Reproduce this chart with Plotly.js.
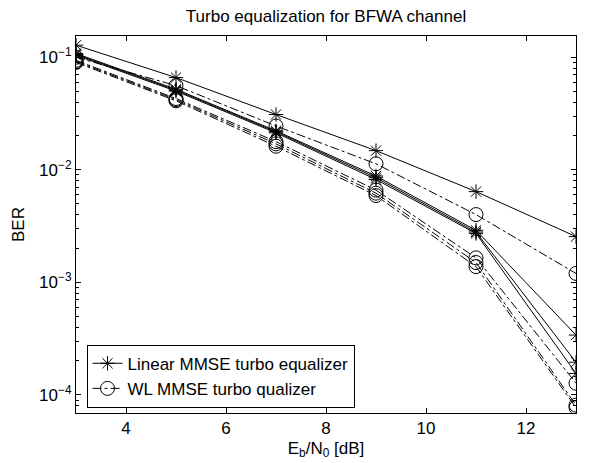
<!DOCTYPE html>
<html>
<head>
<meta charset="utf-8">
<script src="https://cdn.plot.ly/plotly-3.0.1.min.js"></script>
<style>html,body{margin:0;padding:0;background:#fff;}#chart{width:589px;height:463px;}</style>
</head>
<body>
<div id="chart"></div>
<script>
// Eb/N0 [dB]
const ebn0 = [3, 5, 7, 9, 11, 13];
// Linear MMSE turbo equalizer (solid, asterisk), iterations 1..4
const lin1 = [0.128, 0.066, 0.031, 0.0148, 0.0064, 0.00255];
const lin2 = [0.108, 0.052, 0.0222, 0.0088, 0.0029, 0.00034];
const lin3 = [0.106, 0.051, 0.0218, 0.0085, 0.0028, 0.000195];
const lin4 = [0.104, 0.050, 0.0213, 0.0082, 0.00272, 0.000155];
// WL MMSE turbo equalizer (dash-dot, circle), iterations 1..4
const wl1 = [0.100, 0.056, 0.0245, 0.0113, 0.0040, 0.0012];
const wl2 = [0.094, 0.043, 0.0178, 0.0066, 0.00165, 0.000127];
const wl3 = [0.092, 0.042, 0.0170, 0.0062, 0.0015, 0.000081];
const wl4 = [0.090, 0.041, 0.0162, 0.0059, 0.00138, 0.000077];

const xTicks = [4, 6, 8, 10, 12];
const yTicks = [1e-4, 1e-3, 1e-2, 1e-1];
const yTickText = ['10<sup>−4</sup>', '10<sup>−3</sup>', '10<sup>−2</sup>', '10<sup>−1</sup>'];

const minorVals = [];
for (let k = -5; k <= 0; k++) for (let m = 2; m <= 9; m++) minorVals.push(m * Math.pow(10, k));

const linStyle = {mode: 'lines+markers', line: {color: '#000', width: 1, dash: 'solid'},
  marker: {symbol: 'asterisk-open', size: 12, color: '#000', line: {color: '#000', width: 1}}};
const wlStyle = {mode: 'lines+markers', line: {color: '#000', width: 1, dash: 'dashdot'},
  marker: {symbol: 'circle-open', size: 14, color: '#000', line: {color: '#000', width: 1}}};

function tr(y, style, name, show) {
  return Object.assign({x: ebn0, y: y, name: name, showlegend: show, type: 'scatter'}, JSON.parse(JSON.stringify(style)));
}

const data = [
  tr(lin1, linStyle, 'Linear MMSE turbo equalizer', true),
  tr(wl1, wlStyle, 'WL MMSE turbo qualizer', true),
  tr(lin2, linStyle, 'lin2', false),
  tr(lin3, linStyle, 'lin3', false),
  tr(lin4, linStyle, 'lin4', false),
  tr(wl2, wlStyle, 'wl2', false),
  tr(wl3, wlStyle, 'wl3', false),
  tr(wl4, wlStyle, 'wl4', false)
];

const font = {family: 'Liberation Sans, Arial, Helvetica, sans-serif', color: '#000'};

const layout = {
  width: 589, height: 463,
  margin: {l: 76, r: 13, t: 36, b: 50},
  paper_bgcolor: '#fff', plot_bgcolor: '#fff',
  font: Object.assign({size: 16}, font),
  title: {text: 'Turbo equalization for BFWA channel', x: 0.5, xref: 'paper', y: 0.966, yanchor: 'middle',
    font: Object.assign({size: 17}, font)},
  xaxis: {
    range: [3, 13], tickmode: 'array', tickvals: xTicks, ticktext: xTicks.map(String),
    ticks: 'inside', ticklen: 5, tickcolor: '#000', showline: true, linecolor: '#000', linewidth: 1,
    mirror: 'ticks', showgrid: false, zeroline: false,
    tickfont: Object.assign({size: 17}, font),
    title: {text: 'E<sub>b</sub>/N<sub>0</sub> [dB]', font: Object.assign({size: 17}, font), standoff: 4}
  },
  yaxis: {
    type: 'log', range: [Math.log10(6.9e-5), Math.log10(0.1545)],
    tickmode: 'array', tickvals: yTicks, ticktext: yTickText,
    ticks: 'inside', ticklen: 5, tickcolor: '#000', showline: true, linecolor: '#000', linewidth: 1,
    mirror: 'ticks', showgrid: false, zeroline: false,
    tickfont: Object.assign({size: 17}, font),
    minor: {tickmode: 'array', tickvals: minorVals, ticks: 'inside', ticklen: 3, tickcolor: '#000', showgrid: false},
    title: {text: 'BER', font: Object.assign({size: 17}, font), standoff: 10}
  },
  legend: {
    x: 0.021, y: 0.014, xanchor: 'left', yanchor: 'bottom',
    bgcolor: '#fff', bordercolor: '#000', borderwidth: 1,
    font: Object.assign({size: 17}, font), tracegroupgap: 0
  },
  showlegend: true
};

Plotly.newPlot('chart', data, layout, {staticPlot: true, displayModeBar: false});
</script>
</body>
</html>
